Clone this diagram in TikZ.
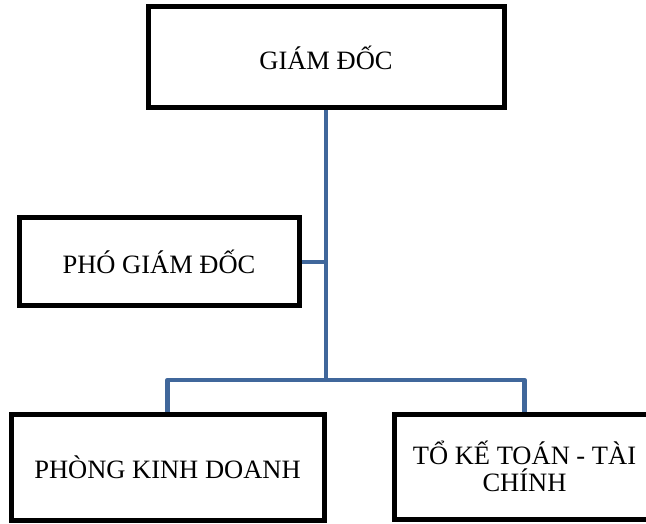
\documentclass[tikz,border=0pt]{standalone}
\usepackage{fontspec}
\setmainfont{Liberation Serif}
\usepackage{tikz}
\definecolor{linkblue}{RGB}{64,103,155}
\tikzset{
  unitbox/.style={draw=black,line width=5pt,fill=white,align=center,inner sep=0pt,
    font=\fontsize{26.5}{27}\selectfont},
  link/.style={draw=linkblue,line width=4.5pt,line join=round}
}

\begin{document}
\begin{tikzpicture}[x=1pt,y=1pt]
\useasboundingbox (0,0) rectangle (646,523);
\node[unitbox,minimum width=356pt,minimum height=101pt] (giamdoc) at (326,465.5) {GIÁM ĐỐC};
\node[unitbox,minimum width=280pt,minimum height=88pt] (phogd) at (159,261) {PHÓ GIÁM ĐỐC};
\node[unitbox,minimum width=313pt,minimum height=106pt] (kinhdoanh) at (167.5,56) {PHÒNG KINH DOANH};
\node[unitbox,minimum width=261pt,minimum height=105pt] (ketoan) at (524.5,56.5) {TỔ KẾ TOÁN - TÀI\\CHÍNH};
\coordinate (bus) at (326,143);
\draw[link] (giamdoc.south) -- (bus);
\draw[link] (kinhdoanh.north) |- (bus) -| (ketoan.north);
\draw[link] (phogd.east) -- (phogd.east -| bus);
\end{tikzpicture}
\end{document}
